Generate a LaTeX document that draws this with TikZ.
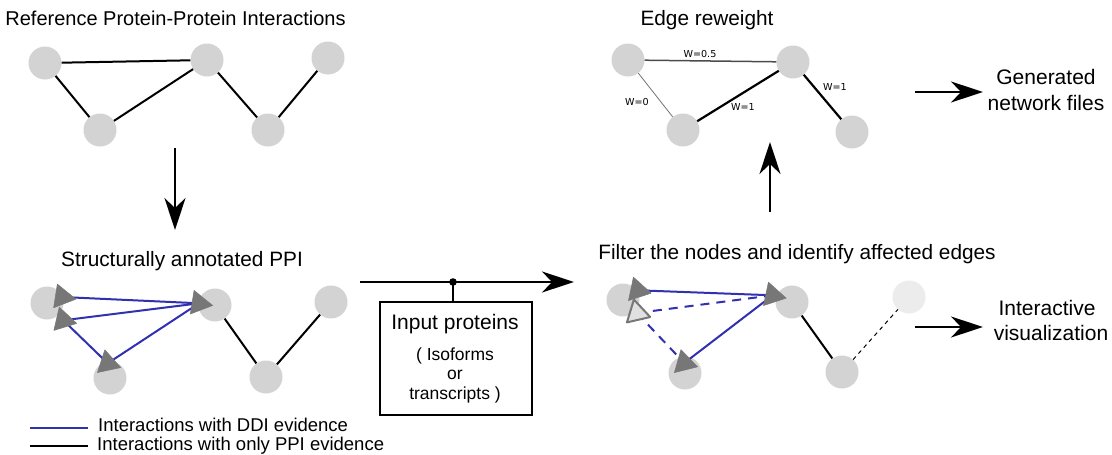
\documentclass[tikz,border=0pt]{standalone}
\usepackage{fontspec}
\setmainfont{Liberation Sans}
\newfontfamily\wfont{DejaVu Sans}
\usetikzlibrary{calc,arrows.meta}
\definecolor{ddiblue}{RGB}{48,48,176}
\definecolor{nodegray}{RGB}{211,211,211}
\definecolor{fadegray}{RGB}{236,236,236}
\definecolor{domgray}{RGB}{119,119,119}
\def\domtri(#1)[#2]#3{\filldraw[#3] ($(#1)+(#2:13.8)$) -- ($(#1)+(#2+120:13.8)$) -- ($(#1)+(#2+240:13.8)$) -- cycle;}

\begin{document}
\begin{tikzpicture}[x=1pt, y=-1pt,
    ppi/.style={circle, fill=nodegray, minimum size=33pt, inner sep=0pt},
    ppifade/.style={ppi, fill=fadegray},
    ppiedge/.style={line width=2pt},
    ddi/.style={ddiblue, line width=2pt},
    flow/.style={line width=2pt, -{Stealth[length=32pt, width=21pt, inset=10pt]}},
    title/.style={font=\fontsize{20}{24}\selectfont, anchor=base, inner sep=0pt},
    side/.style={title, font=\fontsize{21}{24}\selectfont},
    small/.style={title, font=\fontsize{17.5}{20}\selectfont},
    legend/.style={title, anchor=base west, font=\fontsize{18.5}{20}\selectfont},
    wlab/.style={font=\wfont\fontsize{9.6}{11}\selectfont, anchor=base, inner sep=0pt},
    dom/.style={fill=domgray, draw=domgray, line width=0.5pt, line join=round},
    domopen/.style={fill=black!12, draw=domgray, line width=2pt, line join=round}]
    %%%%% START %%%%%
    \fill[white] (0,0) rectangle (1112,455);
    \useasboundingbox (0,0) rectangle (1112,455);

    % reference PPI
    \node[title] (reftitle) at (175.5,25) {Reference Protein-Protein Interactions};
    \node[ppi] (a) at (45,63) {};
    \node[ppi] (b) at (207,60) {};
    \node[ppi] (c) at (100,130) {};
    \node[ppi] (d) at (268,130) {};
    \node[ppi] (e) at (328,58) {};
    \draw[ppiedge] (a) -- (b);
    \draw[ppiedge] (a) -- (c);
    \draw[ppiedge] (c) -- (b);
    \draw[ppiedge] (b) -- (d);
    \draw[ppiedge] (d) -- (e);

    \coordinate (dn0) at (175,148);
    \coordinate (dn1) at (175,230);
    \draw[flow] (dn0) -- (dn1);

    % structurally annotated PPI
    \node[title, font=\fontsize{20.8}{24}\selectfont] (saptitle) at (182,266) {Structurally annotated PPI};
    \node[ppi] (a1) at (47,303) {};
    \node[ppi] (b1) at (215,305) {};
    \node[ppi] (c1) at (110,378) {};
    \node[ppi] (d1) at (266,377) {};
    \node[ppi] (e1) at (331,302) {};
    \coordinate (a1x) at (62.3,297);
    \coordinate (a1y) at (63.3,320.3);
    \coordinate (b1x) at (199,303.3);
    \coordinate (c1x) at (107.7,363.3);
    \draw[ddi] (b1x) -- (a1x);
    \draw[ddi] (b1x) -- (a1y);
    \draw[ddi] (a1y) -- (c1x);
    \draw[ddi] (c1x) -- (b1x);
    \draw[ppiedge] (b1) -- (d1);
    \draw[ppiedge] (d1) -- (e1);
    \domtri(a1x)[9]{dom}
    \domtri(a1y)[13]{dom}
    \domtri(b1x)[9]{dom}
    \domtri(c1x)[18]{dom}

    % legend
    \draw[ddi] (30,428) -- (88,428);
    \draw[ppiedge] (30,446) -- (88,446);
    \node[legend] (legddi) at (98,431) {Interactions with DDI evidence};
    \node[legend] (legppi) at (97,450) {Interactions with only PPI evidence};

    % input proteins
    \coordinate (mid0) at (360,282);
    \coordinate (mid1) at (574,282);
    \coordinate (jn) at (453,282);
    \draw[flow] (mid0) -- (mid1);
    \node[draw, line width=2pt, minimum width=152pt, minimum height=113pt, inner sep=0pt] (inbox) at (456,358.5) {};
    \draw[line width=2pt] (jn) -- (jn |- inbox.north);
    \fill (jn) circle (3.8);
    \node[side] (inp1) at (455,329) {Input proteins};
    \node[small] (inp2) at (455,360) {( Isoforms};
    \node[small] (inp3) at (455,379) {or};
    \node[small] (inp4) at (455,399) {transcripts )};

    % filter
    \node[title, font=\fontsize{20.8}{24}\selectfont] (filtitle) at (797,259) {Filter the nodes and identify affected edges};
    \node[ppi] (a2) at (623,300) {};
    \node[ppi] (b2) at (792,302) {};
    \node[ppi] (c2) at (685,373) {};
    \node[ppi] (d2) at (842,372) {};
    \node[ppifade] (e2) at (909,297) {};
    \coordinate (a2x) at (637.7,290.3);
    \coordinate (a2y) at (637,313);
    \coordinate (b2x) at (772.7,295.3);
    \coordinate (c2x) at (684.3,363);
    \draw[ddi] (a2x) -- (b2x);
    \draw[ddi, dash pattern=on 9pt off 7pt] (a2y) -- (b2x);
    \draw[ddi, dash pattern=on 9pt off 7pt] (a2y) -- (c2x);
    \draw[ddi] (c2x) -- (b2x);
    \draw[ppiedge] (b2) -- (d2);
    \draw[line width=1pt, dash pattern=on 4pt off 4pt] (d2) -- (e2);
    \domtri(a2x)[12]{dom}
    \domtri(a2y)[17]{domopen}
    \domtri(b2x)[12]{dom}
    \domtri(c2x)[16]{dom}

    \coordinate (iv0) at (915,327);
    \coordinate (iv1) at (983,327);
    \draw[flow] (iv0) -- (iv1);
    \node[side] (iv1t) at (1047,315) {Interactive};
    \node[side] (iv2t) at (1051,340) {visualization};

    \coordinate (up0) at (770,212);
    \coordinate (up1) at (770,142);
    \draw[flow] (up0) -- (up1);

    % edge reweight
    \node[title, font=\fontsize{20.8}{24}\selectfont] (rwtitle) at (707,25) {Edge reweight};
    \node[ppi] (a3) at (628,60) {};
    \node[ppi] (b3) at (793,62) {};
    \node[ppi] (c3) at (683,130) {};
    \node[ppi] (d3) at (852,132) {};
    \draw[line width=1.5pt, black!70] (a3) -- (b3);
    \draw[line width=0.8pt, black!55] (a3) -- (c3);
    \draw[line width=2.2pt] (c3) -- (b3);
    \draw[line width=2.2pt] (b3) -- (d3);
    \node[wlab] (w05) at (700,57) {W=0.5};
    \node[wlab] (w0) at (637,105) {W=0};
    \node[wlab] (w1a) at (743,110) {W=1};
    \node[wlab] (w1b) at (835,90) {W=1};

    \coordinate (gn0) at (915,92);
    \coordinate (gn1) at (983,92);
    \draw[flow] (gn0) -- (gn1);
    \node[side] (gn1t) at (1046,84) {Generated};
    \node[side] (gn2t) at (1046,110) {network files};
    %%%%% END %%%%%
\end{tikzpicture}
\end{document}
